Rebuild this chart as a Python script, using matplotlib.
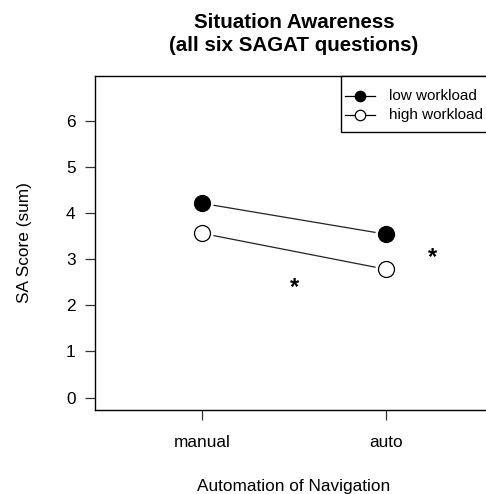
import matplotlib
matplotlib.use("Agg")
import matplotlib.pyplot as plt
from matplotlib.patches import Rectangle

plt.rcParams['font.family'] = ['Liberation Sans', 'DejaVu Sans']

# data
conditions = ["manual", "auto"]
low_workload = [4.21, 3.54]
high_workload = [3.56, 2.78]
# significance stars (x position, y position)
star_x = [1.5, 2.25]
star_y = [2.38, 3.03]
legend_labels = ["low workload", "high workload"]

xpos = [1, 2]

fig = plt.figure(figsize=(4.86, 4.94), dpi=100)
ax = fig.add_axes([95 / 486, 1 - 410 / 494, 398 / 486, 334 / 494])


def series(y, face):
    # R type="b": line with small gaps around the points
    ax.plot(xpos, y, color="#222222", lw=0.9, zorder=1)
    ax.plot(xpos, y, ls="none", marker="o", ms=15, mfc="white", mec="white", zorder=2)
    ax.plot(xpos, y, ls="none", marker="o", ms=11.5, mfc=face, mec="black", mew=0.9, zorder=3)


series(low_workload, "black")
series(high_workload, "white")

for sx, sy in zip(star_x, star_y):
    ax.text(sx, sy, "*", fontsize=17, fontweight="bold", ha="center", va="center")

ax.set_xlim(0.42, 2.58)
ax.set_ylim(-0.268, 6.968)
ax.set_xticks(xpos)
ax.set_xticklabels(conditions)
ax.set_yticks(range(0, 7))
ax.tick_params(axis="both", direction="out", length=7, width=0.9, labelsize=12.4, color="#333333")
ax.tick_params(axis="x", pad=11)
ax.tick_params(axis="y", pad=7)
for sp in ax.spines.values():
    sp.set_linewidth(1.0)

ax.set_xlabel("Automation of Navigation", fontsize=12.4, labelpad=21)
ax.set_ylabel("SA Score (sum)", fontsize=12.4, labelpad=24)
ax.set_title("Situation Awareness\n(all six SAGAT questions)", fontsize=14.8,
             fontweight="bold", pad=18, linespacing=1.25)


# legend drawn in R style, positions given in figure pixels
def px(x, y):
    return (x - 95) / 398, (410 - y) / 334


x0, y0 = px(341, 132)
x1, y1 = px(500, 76)
ax.add_patch(Rectangle((x0, y0), x1 - x0, y1 - y0, transform=ax.transAxes,
                       facecolor="white", edgecolor="black", lw=1.0,
                       clip_on=False, zorder=5))
for i, (lab, face) in enumerate(zip(legend_labels, ["black", "white"])):
    yy = 96 + i * 19
    la, ya = px(345, yy)
    lb, _ = px(375, yy)
    lm, _ = px(360, yy)
    lt, _ = px(389, yy)
    ax.plot([la, lb], [ya, ya], color="black", lw=0.9, transform=ax.transAxes,
            clip_on=False, zorder=6)
    ax.plot([lm], [ya], ls="none", marker="o", ms=7.5, mfc=face, mec="black",
            mew=0.9, transform=ax.transAxes, clip_on=False, zorder=7)
    ax.text(lt, ya, lab, fontsize=11, ha="left", va="center",
            transform=ax.transAxes, zorder=7)

fig.savefig("out.png", dpi=100)
